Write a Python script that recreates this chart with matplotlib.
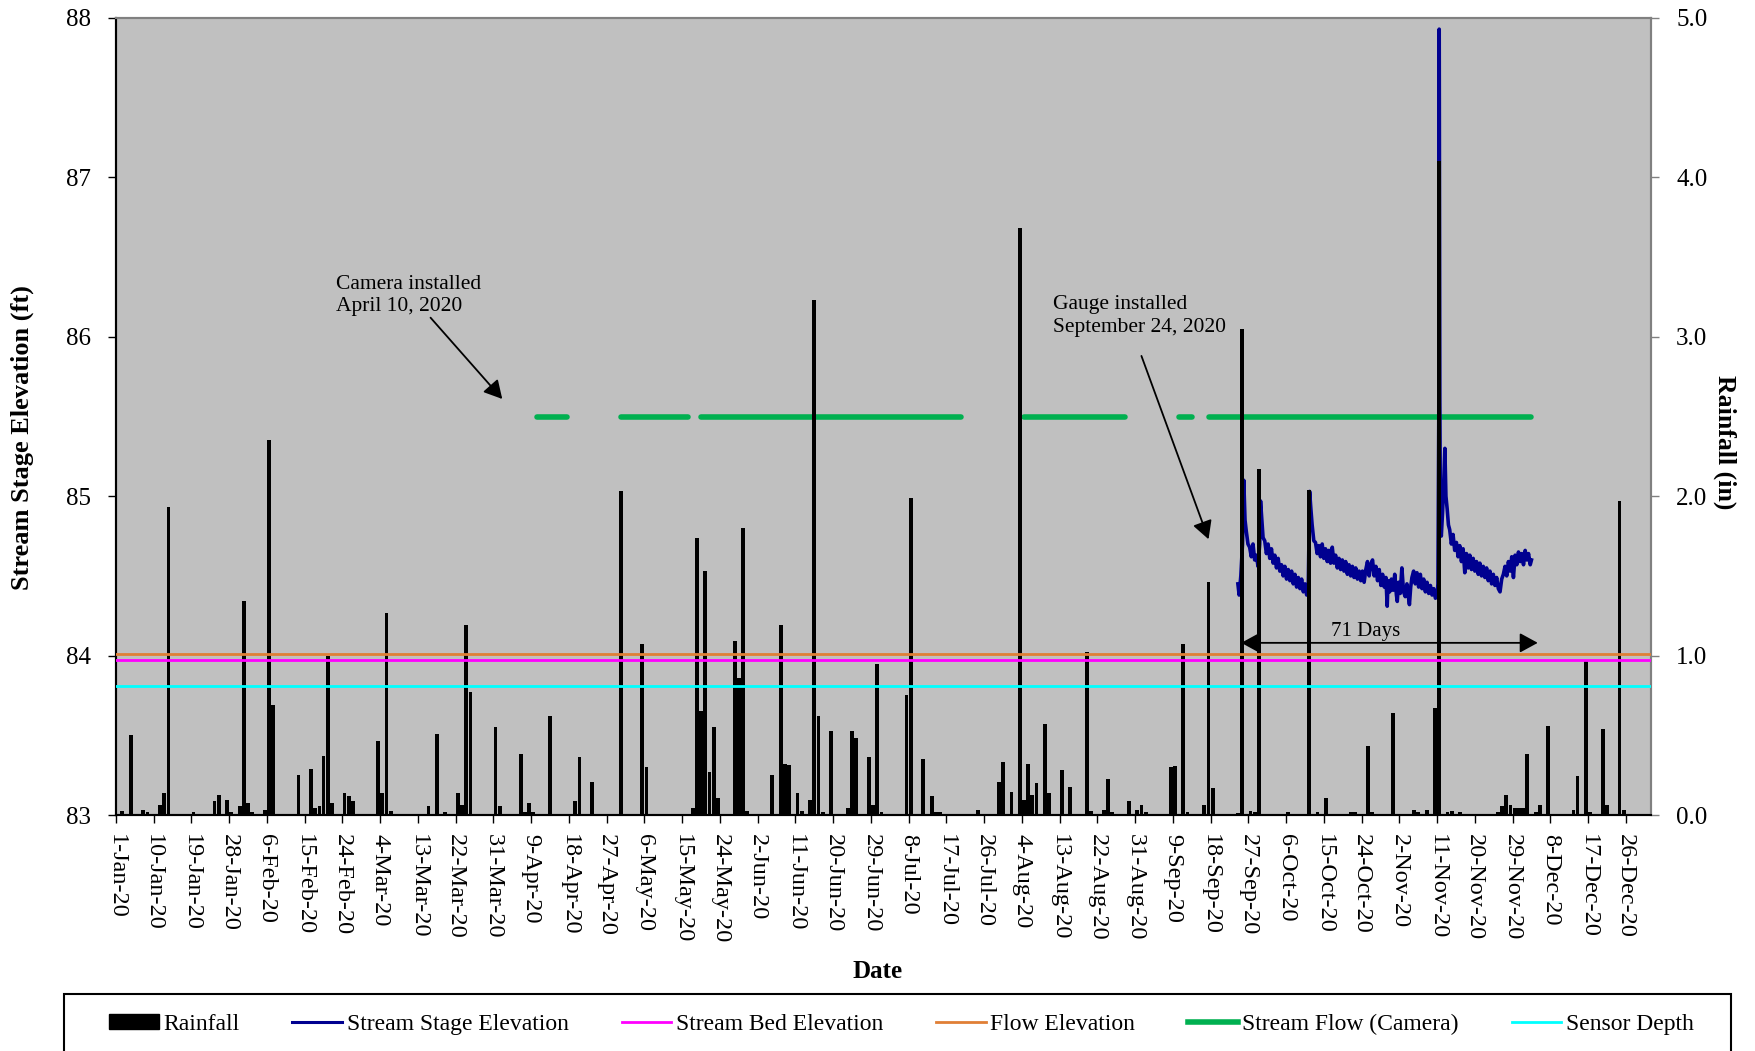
import matplotlib
matplotlib.use("Agg")
import matplotlib.pyplot as plt
import matplotlib.dates as mdates
from matplotlib.lines import Line2D
from matplotlib.patches import Patch, Rectangle
import pandas as pd

plt.rcParams['font.family'] = ['Liberation Serif', 'DejaVu Serif']

START = pd.Timestamp("2020-01-01")
END = pd.Timestamp("2021-01-01")

# daily rainfall (in)
rain_dates = [
    "2020-01-02", "2020-01-04", "2020-01-07", "2020-01-08", "2020-01-11", "2020-01-12", "2020-01-13",
    "2020-01-19", "2020-01-24", "2020-01-25", "2020-01-27", "2020-01-28", "2020-01-30", "2020-01-31",
    "2020-02-01", "2020-02-02", "2020-02-05", "2020-02-06", "2020-02-07", "2020-02-13", "2020-02-16",
    "2020-02-17", "2020-02-18", "2020-02-19", "2020-02-20", "2020-02-21", "2020-02-24", "2020-02-25",
    "2020-02-26", "2020-03-03", "2020-03-04", "2020-03-05", "2020-03-06", "2020-03-15", "2020-03-17",
    "2020-03-19", "2020-03-22", "2020-03-23", "2020-03-24", "2020-03-25", "2020-03-31", "2020-04-01",
    "2020-04-06", "2020-04-07", "2020-04-08", "2020-04-09", "2020-04-13", "2020-04-19", "2020-04-20",
    "2020-04-23", "2020-04-30", "2020-05-05", "2020-05-06", "2020-05-17", "2020-05-18", "2020-05-19",
    "2020-05-20", "2020-05-21", "2020-05-22", "2020-05-23", "2020-05-27", "2020-05-28", "2020-05-29",
    "2020-05-30", "2020-06-05", "2020-06-07", "2020-06-08", "2020-06-09", "2020-06-11", "2020-06-12",
    "2020-06-14", "2020-06-15", "2020-06-16", "2020-06-17", "2020-06-19", "2020-06-23", "2020-06-24",
    "2020-06-25", "2020-06-28", "2020-06-29", "2020-06-30", "2020-07-01", "2020-07-07", "2020-07-08",
    "2020-07-11", "2020-07-13", "2020-07-14", "2020-07-15", "2020-07-24", "2020-07-29", "2020-07-30",
    "2020-08-01", "2020-08-03", "2020-08-04", "2020-08-05", "2020-08-06", "2020-08-07", "2020-08-09",
    "2020-08-10", "2020-08-13", "2020-08-15", "2020-08-19", "2020-08-20", "2020-08-23", "2020-08-24",
    "2020-08-25", "2020-08-29", "2020-08-31", "2020-09-01", "2020-09-02", "2020-09-08", "2020-09-09",
    "2020-09-11", "2020-09-12", "2020-09-16", "2020-09-17", "2020-09-18", "2020-09-24", "2020-09-25",
    "2020-09-27", "2020-09-28", "2020-09-29", "2020-10-06", "2020-10-11", "2020-10-13", "2020-10-15",
    "2020-10-21", "2020-10-22", "2020-10-25", "2020-10-26", "2020-10-31", "2020-11-05", "2020-11-06",
    "2020-11-08", "2020-11-10", "2020-11-11", "2020-11-13", "2020-11-14", "2020-11-16", "2020-11-25",
    "2020-11-26", "2020-11-27", "2020-11-28", "2020-11-29", "2020-11-30", "2020-12-01", "2020-12-02",
    "2020-12-04", "2020-12-05", "2020-12-07", "2020-12-13", "2020-12-14", "2020-12-16", "2020-12-17",
    "2020-12-20", "2020-12-21", "2020-12-24", "2020-12-25",
]
rain_in = [
    0.025, 0.50, 0.033, 0.017, 0.065, 0.135, 1.93,
    0.017, 0.085, 0.125, 0.094, 0.017, 0.054, 1.34,
    0.073, 0.017, 0.033, 2.35, 0.69, 0.25, 0.29,
    0.044, 0.054, 0.37, 1.00, 0.073, 0.135, 0.117,
    0.085, 0.465, 0.135, 1.27, 0.025, 0.054, 0.51,
    0.017, 0.135, 0.065, 1.19, 0.77, 0.55, 0.054,
    0.38, 0.017, 0.073, 0.017, 0.62, 0.085, 0.365,
    0.21, 2.03, 1.07, 0.30, 0.044, 1.74, 0.65,
    1.53, 0.27, 0.55, 0.104, 1.09, 0.86, 1.80,
    0.023, 0.25, 1.19, 0.32, 0.315, 0.135, 0.023,
    0.094, 3.23, 0.62, 0.017, 0.53, 0.044, 0.53,
    0.48, 0.365, 0.065, 0.95, 0.017, 0.75, 1.99,
    0.354, 0.117, 0.017, 0.017, 0.033, 0.21, 0.333,
    0.146, 3.68, 0.096, 0.32, 0.125, 0.20, 0.57,
    0.135, 0.283, 0.177, 1.02, 0.023, 0.033, 0.225,
    0.017, 0.085, 0.033, 0.065, 0.017, 0.30, 0.31,
    1.07, 0.017, 0.065, 1.46, 0.167, 0.01, 3.05,
    0.023, 0.017, 2.17, 0.017, 2.04, 0.017, 0.104,
    0.017, 0.017, 0.43, 0.017, 0.64, 0.033, 0.017,
    0.033, 0.67, 4.10, 0.017, 0.023, 0.017, 0.017,
    0.054, 0.125, 0.065, 0.044, 0.044, 0.044, 0.38,
    0.017, 0.065, 0.56, 0.033, 0.246, 0.965, 0.017,
    0.54, 0.065, 1.97, 0.033,
]

# stream stage from the gauge (days after 1-Jan-20, ft)
stage_day = [
    267.5, 267.8, 268.2, 268.6, 268.9, 269.2, 269.5, 269.9, 270.3, 270.7, 271.1, 271.5, 271.9, 272.3,
    272.7, 272.9, 273.2, 273.5, 273.9, 274.3, 274.7, 275.1, 275.5, 275.9, 276.3, 276.7, 277.1, 277.5,
    277.9, 278.3, 278.7, 279.1, 279.5, 279.9, 280.3, 280.7, 281.1, 281.5, 281.9, 282.3, 282.7, 283.1,
    283.5, 283.9, 284.3, 284.6, 284.9, 285.2, 285.6, 286.0, 286.4, 286.8, 287.2, 287.6, 288.0, 288.4,
    288.8, 289.2, 289.6, 290.0, 290.4, 290.8, 291.2, 291.6, 292.0, 292.4, 292.8, 293.2, 293.6, 294.0,
    294.4, 294.8, 295.2, 295.6, 296.0, 296.4, 296.8, 297.2, 297.6, 298.0, 298.4, 298.8, 299.2, 299.6,
    300.0, 300.4, 300.8, 301.2, 301.6, 302.0, 302.4, 302.8, 303.1, 303.3, 303.7, 304.1, 304.5, 304.9,
    305.3, 305.5, 305.8, 306.2, 306.6, 307.0, 307.4, 307.8, 308.1, 308.4, 308.7, 309.0, 309.4, 309.8,
    310.2, 310.6, 311.0, 311.4, 311.8, 312.2, 312.6, 313.0, 313.4, 313.8, 314.2, 314.6, 315.0, 315.2,
    315.4, 315.5, 315.65, 315.8, 316.0, 316.3, 316.6, 316.85, 317.1, 317.4, 317.7, 318.0, 318.4, 318.8,
    319.2, 319.6, 320.0, 320.4, 320.8, 321.2, 321.6, 322.0, 322.4, 322.8, 323.2, 323.6, 324.0, 324.4,
    324.8, 325.2, 325.6, 326.0, 326.4, 326.8, 327.2, 327.6, 328.0, 328.4, 328.8, 329.2, 329.6, 330.0,
    330.4, 330.8, 331.2, 331.6, 332.0, 332.4, 332.8, 333.2, 333.6, 334.0, 334.4, 334.8, 335.2, 335.6,
    336.0, 336.4, 336.8, 337.2, 337.5,
]
stage_ft = [
    84.45, 84.38, 84.50, 84.70, 85.10, 84.85, 84.78, 84.70, 84.68, 84.62, 84.70, 84.60, 84.63, 84.56,
    84.70, 84.97, 84.85, 84.74, 84.72, 84.64, 84.70, 84.61, 84.67, 84.58, 84.63, 84.55, 84.61, 84.53,
    84.57, 84.50, 84.56, 84.48, 84.54, 84.47, 84.53, 84.45, 84.51, 84.43, 84.49, 84.42, 84.48, 84.40,
    84.45, 84.38, 84.46, 85.03, 84.92, 84.82, 84.72, 84.71, 84.64, 84.69, 84.62, 84.70, 84.61, 84.67,
    84.59, 84.66, 84.58, 84.68, 84.58, 84.63, 84.55, 84.61, 84.54, 84.60, 84.53, 84.59, 84.51, 84.57,
    84.50, 84.56, 84.49, 84.55, 84.48, 84.53, 84.47, 84.53, 84.46, 84.54, 84.59, 84.50, 84.57, 84.60,
    84.50, 84.56, 84.47, 84.54, 84.44, 84.51, 84.43, 84.49, 84.31, 84.47, 84.40, 84.48, 84.41, 84.51,
    84.38, 84.34, 84.46, 84.39, 84.55, 84.40, 84.37, 84.45, 84.38, 84.32, 84.43, 84.49, 84.53, 84.45,
    84.52, 84.43, 84.51, 84.42, 84.48, 84.40, 84.46, 84.39, 84.44, 84.38, 84.42, 84.36, 84.38, 84.45,
    85.50, 87.93, 85.60, 84.80, 84.75, 84.90, 85.10, 85.30, 85.00, 84.92, 84.82, 84.79, 84.70, 84.76,
    84.66, 84.71, 84.62, 84.69, 84.59, 84.67, 84.52, 84.64, 84.55, 84.63, 84.54, 84.61, 84.53, 84.59,
    84.51, 84.58, 84.50, 84.56, 84.49, 84.55, 84.47, 84.53, 84.45, 84.51, 84.44, 84.49, 84.42, 84.40,
    84.48, 84.51, 84.56, 84.50, 84.59, 84.53, 84.62, 84.49, 84.63, 84.57, 84.65, 84.59, 84.64, 84.57,
    84.66, 84.60, 84.64, 84.57, 84.60,
]

# periods with stream flow seen on the camera
flow_start = ["2020-04-10", "2020-04-30", "2020-05-19", "2020-08-04", "2020-09-10", "2020-09-17"]
flow_end = ["2020-04-17", "2020-05-16", "2020-07-20", "2020-08-28", "2020-09-13", "2020-12-03"]
flow_level = 85.5

bed_elev = 83.975
flow_elev = 84.01
sensor_depth = 83.81

fig = plt.figure(figsize=(17.56, 10.51), dpi=100)
ax = fig.add_axes([116 / 1756, 1 - 815 / 1051, (1651 - 116) / 1756, (815 - 18) / 1051])
ax.set_facecolor('#C0C0C0')
ax2 = ax.twinx()

# stage side (drawn below the bars)
for s, e in zip(flow_start, flow_end):
    ax.plot([pd.Timestamp(s) + pd.Timedelta(hours=12), pd.Timestamp(e) + pd.Timedelta(hours=12)],
            [flow_level, flow_level], color='#00B050', lw=4, solid_capstyle='round')
stage_x = START + pd.to_timedelta(stage_day, unit='D')
ax.plot(stage_x, stage_ft, color='#000090', lw=2.6)

# rainfall bars
rain_x = pd.to_datetime(rain_dates) + pd.Timedelta(hours=12)
ax2.bar(rain_x, rain_in, width=0.9, color='black', zorder=2)

# reference elevations on top of the bars
x0, x1 = mdates.date2num(START), mdates.date2num(END)
ax2.plot([x0, x1], [flow_elev, flow_elev], color='#E07F35', lw=2, transform=ax.transData, zorder=3)
ax2.plot([x0, x1], [bed_elev, bed_elev], color='#FF00FF', lw=2, transform=ax.transData, zorder=3)
ax2.plot([x0, x1], [sensor_depth, sensor_depth], color='#00FFFF', lw=2, transform=ax.transData, zorder=3)

ax.set_xlim(START, END)
ax.set_ylim(83, 88)
ax2.set_ylim(0, 5)
ax.set_yticks([83, 84, 85, 86, 87, 88])
ax2.set_yticks([0, 1, 2, 3, 4, 5])
ax2.set_yticklabels(["%.1f" % v for v in [0, 1, 2, 3, 4, 5]])

ticks = pd.date_range("2020-01-01", "2020-12-31", freq="9D")
ax.set_xticks(ticks)
ax.set_xticklabels([f"{t.day}-{t.strftime('%b-%y')}" for t in ticks], rotation=-90, ha='center', va='top')

ax.tick_params(axis='x', direction='out', length=6, width=1, labelsize=17.5, pad=8)
ax.tick_params(axis='y', direction='out', length=6, width=1, labelsize=18, pad=12)
ax2.tick_params(axis='y', direction='out', length=6, width=1, labelsize=18, pad=12, color='#808080')

for a in (ax, ax2):
    a.spines['left'].set_color('black')
    a.spines['bottom'].set_color('black')
    a.spines['top'].set_color('#808080')
    a.spines['right'].set_color('#808080')
    for sp in a.spines.values():
        sp.set_linewidth(1.5)

ax.set_xlabel("Date", fontsize=18, fontweight='bold')
ax.xaxis.set_label_coords(0.496, -0.1815)
ax.set_ylabel("Stream Stage Elevation (ft)", fontsize=19, fontweight='bold', va='center')
ax.yaxis.set_label_coords(-0.0612, 0.474)
ax2.set_ylabel("Rainfall (in)", fontsize=18.5, fontweight='bold', rotation=-90, va='center')
ax2.yaxis.set_label_coords(1.048, 0.468)

# annotations
def dn(s, days=0.0):
    return mdates.date2num(pd.Timestamp(s) + pd.Timedelta(days=days))

head = '-|>,head_length=0.55,head_width=0.3'
ax2.annotate("Camera installed\nApril 10, 2020", xy=(dn("2020-01-01", 52.4), 86.26),
             xycoords=ax.transData, fontsize=15.5, ha='left', va='center', linespacing=1.25)
ax2.annotate("", xy=(dn("2020-01-01", 92.1), 85.61), xytext=(dn("2020-01-01", 75.0), 86.12),
             xycoords=ax.transData, textcoords=ax.transData,
             arrowprops=dict(arrowstyle=head, color='black', lw=1.3, shrinkA=0, shrinkB=0, mutation_scale=20))
ax2.annotate("Gauge installed\nSeptember 24, 2020", xy=(dn("2020-01-01", 223.3), 86.13),
             xycoords=ax.transData, fontsize=15.5, ha='left', va='center', linespacing=1.25)
ax2.annotate("", xy=(dn("2020-01-01", 260.5), 84.73), xytext=(dn("2020-01-01", 244.5), 85.88),
             xycoords=ax.transData, textcoords=ax.transData,
             arrowprops=dict(arrowstyle=head, color='black', lw=1.3, shrinkA=0, shrinkB=0, mutation_scale=20))
ax2.annotate("", xy=(dn("2020-01-01", 339.0), 84.08), xytext=(dn("2020-01-01", 268.3), 84.08),
             xycoords=ax.transData, textcoords=ax.transData,
             arrowprops=dict(arrowstyle='<|-|>,head_length=0.55,head_width=0.3', color='black', lw=1.3,
                             shrinkA=0, shrinkB=0, mutation_scale=20))
ax2.annotate("71 Days", xy=(dn("2020-01-01", 298.0), 84.15), xycoords=ax.transData,
             fontsize=15, ha='center', va='center')

# legend across the bottom
handles = [
    Patch(facecolor='black', edgecolor='black'),
    Line2D([], [], color='#000090', lw=2.2),
    Line2D([], [], color='#FF00FF', lw=2),
    Line2D([], [], color='#E07F35', lw=2),
    Line2D([], [], color='#00B050', lw=4),
    Line2D([], [], color='#00FFFF', lw=2),
]
labels = ["Rainfall", "Stream Stage Elevation", "Stream Bed Elevation", "Flow Elevation",
          "Stream Flow (Camera)", "Sensor Depth"]
yc = 1 - 1024 / 1051
fig.legend(handles, labels, loc='center', ncol=6, mode='expand', frameon=False,
           bbox_to_anchor=(109 / 1756, yc - 0.02, (1694 - 109) / 1756, 0.04),
           fontsize=17, handlelength=2.1, handleheight=0.58, handletextpad=0.2,
           borderpad=0, borderaxespad=0)
fig.add_artist(Rectangle((64 / 1756, -0.03), (1731 - 64) / 1756, 0.03 + 1 - 994 / 1051,
                         transform=fig.transFigure, fill=False, edgecolor='black', lw=1.5))

fig.savefig("out.png", dpi=100)
